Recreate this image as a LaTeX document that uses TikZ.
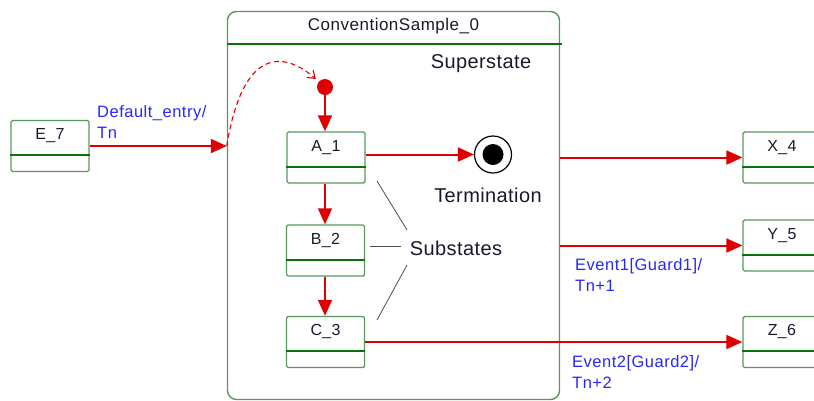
\documentclass[tikz,border=0pt]{standalone}
\usepackage{fontspec}
\setmainfont{Liberation Sans}
\usetikzlibrary{arrows.meta}
\definecolor{boxgreen}{RGB}{88,152,88}
\definecolor{divgreen}{RGB}{10,112,10}
\definecolor{trred}{RGB}{222,0,0}
\definecolor{trblue}{RGB}{40,40,245}
\definecolor{inktext}{RGB}{25,25,45}
\begin{document}
\begin{tikzpicture}[x=1pt,y=-1pt,
  state/.style={draw=boxgreen, line width=1.4pt, rounded corners=1.5pt,
    minimum width=78pt, minimum height=51pt, inner sep=0pt},
  statename/.style={font=\fontsize{16}{19}\selectfont\addfontfeatures{LetterSpace=2}, text=inktext, inner sep=0pt},
  titletext/.style={font=\fontsize{17}{20}\selectfont\addfontfeatures{LetterSpace=3}, text=inktext, inner sep=0pt},
  divider/.style={draw=divgreen, line width=2pt},
  bigtext/.style={font=\fontsize{20}{23}\selectfont\addfontfeatures{LetterSpace=2}, text=inktext, inner sep=0pt},
  trlabel/.style={font=\fontsize{16.5}{21}\selectfont\addfontfeatures{LetterSpace=3}, text=trblue, align=left, inner sep=0pt, anchor=west},
  trans/.style={draw=trred, line width=2pt, -{Triangle[length=16pt,width=14pt]}},
  leader/.style={draw=black!70, line width=0.8pt}]
\useasboundingbox (0,0) rectangle (814,400);
\clip (0,0) rectangle (814,400);

% superstate frame with its title compartment
\node[draw=boxgreen, line width=1.4pt, rounded corners=9pt, minimum width=332pt,
  minimum height=388pt, inner sep=0pt] (ss) at (393.5,205.5) {};
\draw[divider] (227,44) -- (562,44);
\node[titletext] (sstitle) at (393.5,26) {ConventionSample\_0};
\node[bigtext] (sslabel) at (481,64) {Superstate};

% states
\node[state] (e7) at (50,146) {};
\node[state] (a1) at (326,157.5) {};
\node[state] (b2) at (325.5,250.5) {};
\node[state] (c3) at (325.5,342) {};
\node[state] (x4) at (782,157.5) {};
\node[state] (y5) at (782,245.5) {};
\node[state] (z6) at (782,342) {};
\foreach \s/\t in {e7/E\_7, a1/A\_1, b2/B\_2, c3/C\_3, x4/X\_4, y5/Y\_5, z6/Z\_6}{
  \draw[divider] ([yshift=17pt]\s.south west) -- ([yshift=17pt]\s.south east);
  \node[statename] (\s-name) at ([yshift=-16pt]\s.north) {\t};
}

% initial and final pseudostates
\node[circle, fill=trred, minimum size=16pt, inner sep=0pt] (init) at (325,87) {};
\node[circle, draw=black, line width=1.2pt, minimum size=37pt, inner sep=0pt] (term) at (493,154.5) {};
\node[circle, fill=black, minimum size=21pt, inner sep=0pt] (termdot) at (term) {};
\node[bigtext] (termlabel) at (488,195) {Termination};

% substates annotation
\node[bigtext] (sublabel) at (456,248) {Substates};
\coordinate (la1) at (377,181);
\coordinate (la2) at (407,230);
\coordinate (lb1) at (370,246);
\coordinate (lb2) at (401,246);
\coordinate (lc1) at (407,265);
\coordinate (lc2) at (377,320);
\draw[leader] (la1) -- (la2);
\draw[leader] (lb1) -- (lb2);
\draw[leader] (lc1) -- (lc2);

% transitions
\coordinate (entry) at (e7 -| ss.west);
\draw[trans] (e7) -- (entry);
\node[trlabel] (deflabel) at (97,122.5) {Default\_entry/\\Tn};
\draw[trred, line width=1.1pt, dash pattern=on 5pt off 3.5pt, shorten >=4pt,
  -{Straight Barb[length=7pt,width=10pt]}]
  (entry) .. controls (243,45) and (285,52) .. (init);
\draw[trans] (init) -- (init |- a1.north);
\draw[trans] (a1.south -| init) -- (b2.north -| init);
\draw[trans] (b2.south -| init) -- (c3.north -| init);
\draw[trans] (term -| a1.east) -- (term);
\draw[trans] (ss.east |- x4) -- (x4);
\draw[trans] (ss.east |- y5) -- (y5);
\node[trlabel] (ev1label) at (575,275) {Event1[Guard1]/\\Tn+1};
\draw[trans] (c3) -- (z6);
\node[trlabel] (ev2label) at (572,372) {Event2[Guard2]/\\Tn+2};
\end{tikzpicture}
\end{document}
